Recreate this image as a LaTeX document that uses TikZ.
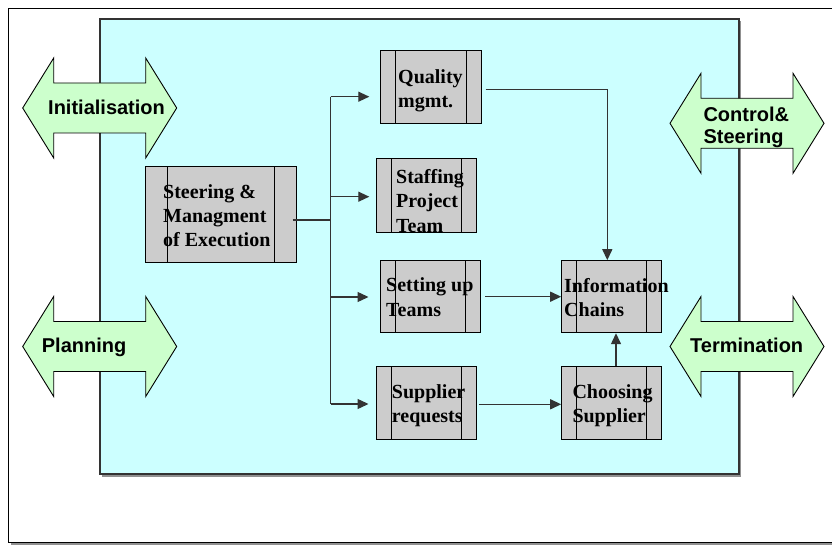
\documentclass[tikz,border=0pt]{standalone}
\usepackage{fontspec}
\setmainfont{Liberation Serif}
\setsansfont{Liberation Sans}
\usetikzlibrary{arrows.meta,calc}

\definecolor{panelcyan}{HTML}{CCFFFF}
\definecolor{arrowgreen}{HTML}{CCFFCC}
\definecolor{boxgray}{HTML}{CCCCCC}
\definecolor{linedark}{HTML}{333333}
\definecolor{shadowgray}{HTML}{909090}

\tikzset{
  conn/.style={draw=linedark, line width=1.3pt},
  flowarrow/.style={conn, -{Triangle[length=11pt,width=10pt]}},
  procbox/.style={draw=black, fill=boxgray, line width=1pt, inner sep=0pt,
    path picture={
      \draw[line width=1pt]
        ([xshift=#1]path picture bounding box.north west) --
        ([xshift=#1]path picture bounding box.south west);
      \draw[line width=1pt]
        ([xshift=-#1]path picture bounding box.north east) --
        ([xshift=-#1]path picture bounding box.south east);
    }},
  procbox/.default=15pt,
  boxtext/.style={font=\bfseries\fontsize{20}{24.2}\selectfont,
    inner sep=0pt, align=left, anchor=north west},
  armtext/.style={font=\sffamily\bfseries\fontsize{20}{21.6}\selectfont,
    inner sep=0pt, align=left, anchor=north west},
  dblarrow/.pic={
    \filldraw[fill=arrowgreen, draw=black, line width=0.9pt]
      (-77,0) -- (-46,-50) -- (-46,-25) -- (46,-25) -- (46,-50) --
      (77,0) -- (46,50) -- (46,25) -- (-46,25) -- (-46,50) -- cycle;
  }
}

\begin{document}
\begin{tikzpicture}[x=1pt,y=-1pt]
  \useasboundingbox (0,0) rectangle (832,545);

  % outer frame with its drop shadow
  \fill[shadowgray] (11,12) rectangle (850,545);
  \filldraw[fill=white, draw=black, line width=1pt] (8,9) rectangle (847,542);

  % cyan work panel
  \fill[shadowgray] (102,21) rectangle (741,476.5);
  \filldraw[fill=panelcyan, draw=linedark, line width=1.2pt] (100,19) rectangle (739,474);

  % phase arrows on both sides of the panel
  \pic at (99.7,108) {dblarrow};
  \pic at (99.7,346.5) {dblarrow};
  \pic at (747,123.3) {dblarrow};
  \pic at (747,346.5) {dblarrow};
  \node[armtext] (init) at (48,99.7) {Initialisation};
  \node[armtext] (plan) at (41.7,337.4) {Planning};
  \node[armtext] (ctrl) at (703.3,107.1) {Control\&\\Steering};
  \node[armtext] (term) at (690,337.4) {Termination};

  % process boxes
  \node[procbox=21.6pt, minimum width=150.3, minimum height=95.6] (steer) at (220.85,214.5) {};
  \node[procbox, minimum width=100.3, minimum height=73] (quality) at (430.85,87.5) {};
  \node[procbox, minimum width=100, minimum height=74] (staff) at (426.7,195.3) {};
  \node[procbox, minimum width=100, minimum height=72] (setting) at (430.7,296.7) {};
  \node[procbox, minimum width=100, minimum height=72] (info) at (611.7,296.7) {};
  \node[procbox, minimum width=100, minimum height=72.6] (supplier) at (426.7,403) {};
  \node[procbox, minimum width=100, minimum height=72.6] (choosing) at (611.7,403) {};

  % box labels
  \node[boxtext] (steer-t) at (163,184.2) {Steering \&\\Managment\\of Execution};
  \node[boxtext] (quality-t) at (398,69.5) {Quality\\mgmt.};
  \node[boxtext] (staff-t) at (396,169.5) {Staffing\\Project\\Team};
  \node[boxtext] (setting-t) at (386,277.9) {Setting up\\Teams};
  \node[boxtext] (info-t) at (564,277.9) {Information\\Chains};
  \node[boxtext] (supplier-t) at (391.7,384.5) {Supplier\\requests};
  \node[boxtext] (choosing-t) at (572.3,384.5) {Choosing\\Supplier};

  % fan-out from steering
  \coordinate (split) at (330.7,220);
  \coordinate (trunk-top) at (330.7,96.7);
  \coordinate (trunk-bot) at (330.7,404);
  \coordinate (to-quality) at (369.3,96.7);
  \coordinate (to-staff) at (369.3,196.7);
  \coordinate (to-setting) at (368.5,297);
  \coordinate (to-supplier) at (368.5,404);
  \draw[conn] ($(steer.east)+(-4,5.5)$) -- (split);
  \draw[conn] (trunk-top) -- (trunk-bot);
  \draw[flowarrow] (trunk-top) -- (to-quality);
  \draw[flowarrow] (to-staff -| split) -- (to-staff);
  \draw[flowarrow] (to-setting -| split) -- (to-setting);
  \draw[flowarrow] (trunk-bot) -- (to-supplier);

  % flows into the information chains
  \draw[flowarrow] ($(quality.east)+(4,1.8)$) -| ($(info.north)+(-4.4,0)$);
  \draw[flowarrow] ($(setting.east)+(4,0)$) -- (info.west);
  \draw[flowarrow] ($(supplier.east)+(1.6,1.3)$) -- ($(choosing.west)+(0,1.3)$);
  \draw[flowarrow] ($(choosing.north)+(4.3,0)$) -- ($(info.south)+(4.3,0)$);
\end{tikzpicture}
\end{document}
